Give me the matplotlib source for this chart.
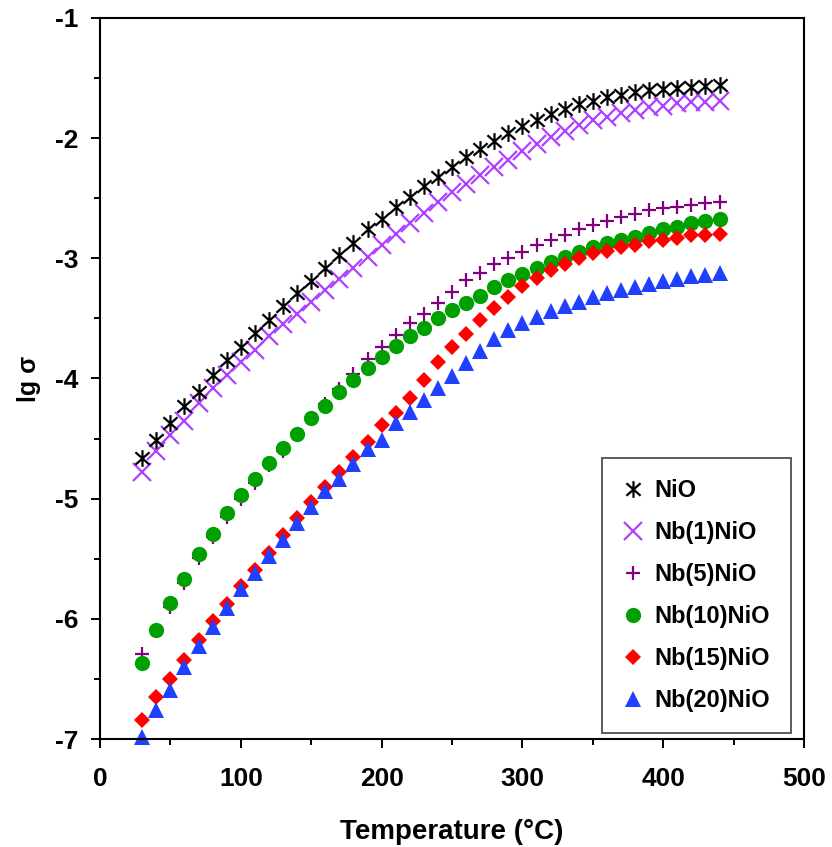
import numpy as np
import matplotlib
matplotlib.use('Agg')
from matplotlib import pyplot as plt
from matplotlib.path import Path
from matplotlib.ticker import MultipleLocator

plt.rcParams['font.family'] = ['Liberation Sans', 'DejaVu Sans']
plt.rcParams['font.weight'] = 'bold'
plt.rcParams['axes.unicode_minus'] = False

# temperature (C)
temp = list(range(30, 450, 10))

# lg sigma
nio = [-4.66, -4.51, -4.37, -4.23, -4.11, -3.97, -3.85, -3.74, -3.62, -3.51,
       -3.40, -3.29, -3.19, -3.08, -2.97, -2.87, -2.76, -2.67, -2.57, -2.49,
       -2.40, -2.32, -2.24, -2.16, -2.09, -2.02, -1.96, -1.90, -1.85, -1.80,
       -1.76, -1.72, -1.69, -1.66, -1.64, -1.62, -1.60, -1.59, -1.58, -1.575,
       -1.57, -1.56]
nb1 = [-4.78, -4.60, -4.47, -4.35, -4.20, -4.08, -3.97, -3.86, -3.76, -3.65,
       -3.55, -3.46, -3.36, -3.26, -3.17, -3.08, -2.99, -2.89, -2.80, -2.71,
       -2.62, -2.53, -2.45, -2.38, -2.31, -2.24, -2.18, -2.11, -2.05, -1.99,
       -1.94, -1.89, -1.85, -1.82, -1.79, -1.77, -1.74, -1.73, -1.71, -1.70,
       -1.70, -1.69]
nb5 = [-6.29, -6.10, -5.90, -5.70, -5.49, -5.32, -5.15, -5.00, -4.87, -4.72,
       -4.60, -4.47, -4.33, -4.21, -4.09, -3.96, -3.84, -3.74, -3.64, -3.54,
       -3.46, -3.37, -3.28, -3.18, -3.12, -3.05, -3.00, -2.95, -2.89, -2.85,
       -2.81, -2.76, -2.72, -2.69, -2.66, -2.63, -2.60, -2.58, -2.57, -2.56,
       -2.54, -2.53]
nb10 = [-6.37, -6.09, -5.87, -5.67, -5.46, -5.29, -5.12, -4.97, -4.84, -4.70,
        -4.58, -4.46, -4.33, -4.23, -4.11, -4.01, -3.91, -3.82, -3.73, -3.65,
        -3.58, -3.50, -3.43, -3.37, -3.31, -3.24, -3.18, -3.13, -3.08, -3.03,
        -2.99, -2.95, -2.91, -2.87, -2.85, -2.82, -2.79, -2.76, -2.74, -2.71,
        -2.69, -2.67]
nb15 = [-6.84, -6.65, -6.50, -6.34, -6.18, -6.02, -5.88, -5.73, -5.59, -5.45,
        -5.30, -5.16, -5.03, -4.90, -4.78, -4.65, -4.53, -4.39, -4.29, -4.16,
        -4.01, -3.86, -3.74, -3.63, -3.51, -3.41, -3.32, -3.23, -3.16, -3.10,
        -3.05, -3.00, -2.96, -2.94, -2.91, -2.89, -2.86, -2.85, -2.83, -2.81,
        -2.81, -2.80]
nb20 = [-6.98, -6.76, -6.59, -6.40, -6.23, -6.07, -5.91, -5.75, -5.62, -5.48,
        -5.34, -5.20, -5.07, -4.94, -4.84, -4.71, -4.59, -4.51, -4.37, -4.28,
        -4.18, -4.08, -3.98, -3.87, -3.77, -3.67, -3.60, -3.54, -3.49, -3.44,
        -3.40, -3.36, -3.32, -3.29, -3.26, -3.24, -3.21, -3.19, -3.17, -3.15,
        -3.14, -3.12]

labels = ['NiO', 'Nb(1)NiO', 'Nb(5)NiO', 'Nb(10)NiO', 'Nb(15)NiO', 'Nb(20)NiO']

# excel-like asterisk: vertical bar + X
star = Path([(0, -1), (0, 1), (-0.85, -0.75), (0.85, 0.75), (-0.85, 0.75), (0.85, -0.75)],
            [Path.MOVETO, Path.LINETO, Path.MOVETO, Path.LINETO, Path.MOVETO, Path.LINETO])

fig = plt.figure(figsize=(8.32, 8.47), dpi=100)
ax = fig.add_axes([0.1202, 0.1275, 0.8462, 0.8513])

kw = dict(linestyle='none', clip_on=False)
h5, = ax.plot(temp, nb5, marker='+', ms=10, mew=1.6, color='#800080', **kw)
h10, = ax.plot(temp, nb10, marker='o', ms=11, mew=0, color='#00A000', **kw)
h15, = ax.plot(temp, nb15, marker='D', ms=8, mew=0, color='#FF0000', **kw)
h20, = ax.plot(temp, nb20, marker='^', ms=11, mew=0, color='#2040FF', **kw)
h1, = ax.plot(temp, nb1, marker='x', ms=12.5, mew=1.6, color='#B040FF', **kw)
h0, = ax.plot(temp, nio, marker=star, ms=12, mew=1.6, color='black', **kw)

ax.set_xlim(0, 500)
ax.set_ylim(-7, -1)
ax.xaxis.set_major_locator(MultipleLocator(100))
ax.xaxis.set_minor_locator(MultipleLocator(50))
ax.yaxis.set_major_locator(MultipleLocator(1))
ax.yaxis.set_minor_locator(MultipleLocator(0.5))
ax.tick_params(which='both', direction='out', top=False, right=False, width=1.4)
ax.tick_params(which='major', length=6.5, labelsize=19)
ax.tick_params(axis='x', which='major', pad=14)
ax.tick_params(axis='y', which='major', pad=9)
ax.tick_params(which='minor', length=4)
for sp in ax.spines.values():
    sp.set_linewidth(1.5)

ax.set_xlabel('Temperature (°C)', fontsize=20, fontweight='bold', labelpad=20)
ax.set_ylabel('lg σ', fontsize=18, fontweight='bold', labelpad=10)

leg = ax.legend([h0, h1, h5, h10, h15, h20], labels, loc='lower right',
                bbox_to_anchor=(0.9815, 0.0083), borderaxespad=0,
                prop={'size': 17, 'weight': 'bold'},
                frameon=True, fancybox=False, edgecolor='#222222', handlelength=0.8,
                handletextpad=0.5, labelspacing=0.8, borderpad=0.9, numpoints=1)
leg.get_frame().set_linewidth(1.3)

plt.savefig('out.png', dpi=100)
